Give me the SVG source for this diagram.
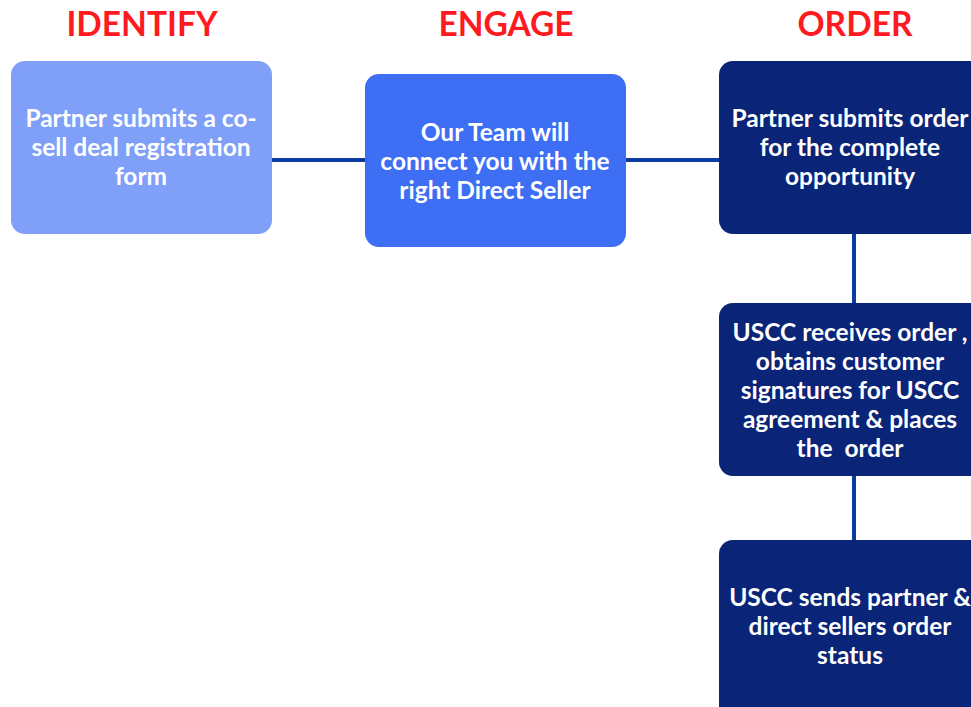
<svg xmlns="http://www.w3.org/2000/svg" width="971" height="707" viewBox="0 0 971 707">
<style>
.h{font-family:Lato,"Liberation Sans",sans-serif;font-weight:bold;font-size:33.5px;fill:#FF1A22;text-anchor:middle}
.t{font-family:Lato,"Liberation Sans",sans-serif;font-weight:bold;font-size:24.5px;fill:#FFFFFF;text-anchor:middle}
.c{stroke:#0B3AA3;stroke-width:4;fill:none}
.dark{fill:#0A2477}
</style>
<rect width="971" height="707" fill="#FFFFFF"/>
<text class="h" x="142" y="36">IDENTIFY</text>
<text class="h" x="506" y="36">ENGAGE</text>
<text class="h" x="855" y="36">ORDER</text>
<g id="connectors">
<line class="c" x1="272" y1="160" x2="367" y2="160"/>
<line class="c" x1="626" y1="160" x2="729" y2="160"/>
<line class="c" x1="854" y1="234" x2="854" y2="305"/>
<line class="c" x1="854" y1="476" x2="854" y2="547"/>
</g>
<g id="identify">
<rect x="11" y="61" width="261" height="173" rx="14" fill="#7F9FF8"/>
<text class="t" x="141" y="127">Partner submits a co-</text>
<text class="t" x="141" y="156">sell deal registration</text>
<text class="t" x="141" y="185">form</text>
</g>
<g id="engage">
<rect x="365" y="74" width="261" height="173" rx="14" fill="#3D6EF3"/>
<text class="t" x="495" y="141">Our Team will</text>
<text class="t" x="495" y="170">connect you with the</text>
<text class="t" x="495" y="199">right Direct Seller</text>
</g>
<g id="order">
<rect class="dark" x="719" y="61" width="270" height="173" rx="14"/>
<text class="t" x="850" y="127">Partner submits order</text>
<text class="t" x="850" y="156">for the complete</text>
<text class="t" x="850" y="185">opportunity</text>
</g>
<g id="uscc-receives">
<rect class="dark" x="719" y="303" width="270" height="173" rx="14"/>
<text class="t" x="850" y="341">USCC receives order ,</text>
<text class="t" x="850" y="370">obtains customer</text>
<text class="t" x="850" y="399">signatures for USCC</text>
<text class="t" x="850" y="428">agreement &amp; places</text>
<text class="t" x="850" y="457" xml:space="preserve">the  order</text>
</g>
<g id="uscc-sends">
<rect class="dark" x="719" y="540" width="270" height="190" rx="14"/>
<text class="t" x="850" y="606">USCC sends partner &amp;</text>
<text class="t" x="850" y="635">direct sellers order</text>
<text class="t" x="850" y="664">status</text>
</g>
</svg>
